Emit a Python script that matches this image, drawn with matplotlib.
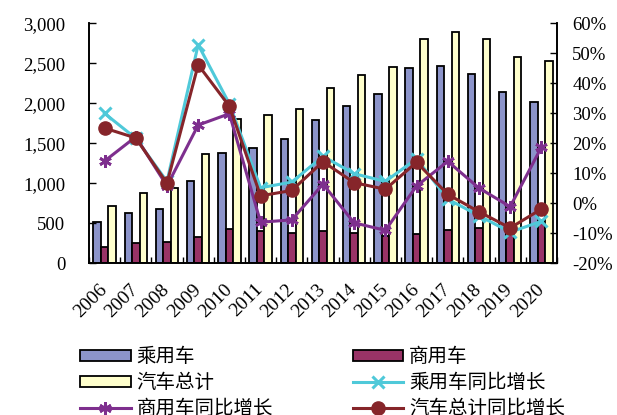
import matplotlib.pyplot as plt
import numpy as np

# 中国汽车销量（万辆）及同比增速
years = ['2006', '2007', '2008', '2009', '2010', '2011', '2012', '2013',
         '2014', '2015', '2016', '2017', '2018', '2019', '2020']
passenger = [517.6, 629.8, 675.6, 1033.1, 1375.8, 1447.2, 1549.5, 1792.9,
             1970.1, 2114.6, 2437.7, 2471.8, 2371.0, 2144.4, 2017.8]
commercial = [204.1, 249.4, 262.7, 331.4, 430.4, 403.3, 381.1, 405.5,
              379.1, 345.1, 365.1, 416.1, 437.1, 432.4, 513.3]
total = [721.6, 879.2, 938.1, 1364.5, 1806.2, 1850.5, 1930.6, 2198.4,
         2349.2, 2459.8, 2802.8, 2887.9, 2808.1, 2576.9, 2531.1]
passenger_yoy = [30.0, 21.7, 7.3, 52.9, 33.2, 5.2, 7.1, 15.7,
                 9.9, 7.3, 14.9, 1.4, -4.1, -9.6, -6.0]
commercial_yoy = [14.1, 22.2, 5.8, 26.1, 29.9, -6.3, -5.5, 6.4,
                  -6.5, -9.0, 5.8, 14.0, 5.1, -1.1, 18.7]
total_yoy = [25.1, 21.8, 6.7, 46.2, 32.4, 2.5, 4.3, 13.9,
             6.9, 4.7, 13.7, 3.0, -2.8, -8.2, -1.9]

serif = 'Liberation Serif'
cjk = ['Noto Sans CJK SC', 'DejaVu Sans']

fig = plt.figure(figsize=(6.17, 4.15), dpi=100)
ax = fig.add_axes([0.1442, 0.3655, 0.7585, 0.578])
ax2 = ax.twinx()

x = np.arange(len(years))
w = 0.24
ax.bar(x - w, passenger, w, color='#8C94CA', edgecolor='black', lw=1.3, label='乘用车')
ax.bar(x, commercial, w, color='#993366', edgecolor='black', lw=1.3, label='商用车')
ax.bar(x + w, total, w, color='#FFFFCC', edgecolor='black', lw=1.3, label='汽车总计')

ax2.plot(x, passenger_yoy, color='#4FC9D9', lw=2.2, marker='x', ms=9, mew=2.2,
         label='乘用车同比增长')
ax2.plot(x, commercial_yoy, color='#7E2F8E', lw=2.2, marker=(6, 2, 0), ms=9, mew=2,
         label='商用车同比增长')
ax2.plot(x, total_yoy, color='#86252A', lw=2.2, marker='o', ms=9.5,
         label='汽车总计同比增长')

ax.set_xlim(-0.5, len(years) - 0.5)
ax.set_ylim(0, 3000)
ax.set_yticks(np.arange(0, 3001, 500))
ax.set_yticklabels([f'{v:,}' for v in range(0, 3001, 500)])
ax2.set_ylim(-20, 60)
ax2.set_yticks(np.arange(-20, 61, 10))
ax2.set_yticklabels([f'{v}%' for v in range(-20, 61, 10)])

# 类别分隔刻度在主刻度上，年份标签放在次刻度上
ax.set_xticks(np.arange(-0.5, len(years)))
ax.set_xticklabels([])
ax.set_xticks(x, minor=True)
ax.set_xticklabels(years, minor=True, rotation=45, ha='right', va='center',
                   rotation_mode='anchor', fontfamily=serif, fontsize=14)
ax.tick_params(axis='x', which='major', direction='in', length=4, width=1)
ax.tick_params(axis='x', which='minor', length=0, pad=17)
ax.tick_params(axis='y', direction='in', length=5, width=1, pad=17, labelsize=13.5)
ax2.tick_params(axis='y', direction='in', length=5, width=1, pad=11, labelsize=13.5)
for lab in ax.get_yticklabels() + ax2.get_yticklabels():
    lab.set_fontfamily(serif)

for a in (ax, ax2):
    a.spines['top'].set_visible(False)
    for s in ('left', 'right', 'bottom'):
        a.spines[s].set_linewidth(1.2)

h1, l1 = ax.get_legend_handles_labels()
h2, l2 = ax2.get_legend_handles_labels()
handles = [h1[0], h1[2], h2[1], h1[1], h2[0], h2[2]]
labels = [l1[0], l1[2], l2[1], l1[1], l2[0], l2[2]]
fig.legend(handles, labels, loc='upper left', bbox_to_anchor=(80 / 617, 1 - 346 / 415),
           ncol=2, frameon=False, prop={'family': cjk, 'size': 14},
           handlelength=2.6, handleheight=0.5, handletextpad=0.3,
           columnspacing=4.1, labelspacing=0.26, borderpad=0, borderaxespad=0)

fig.savefig('out.png', dpi=100)
